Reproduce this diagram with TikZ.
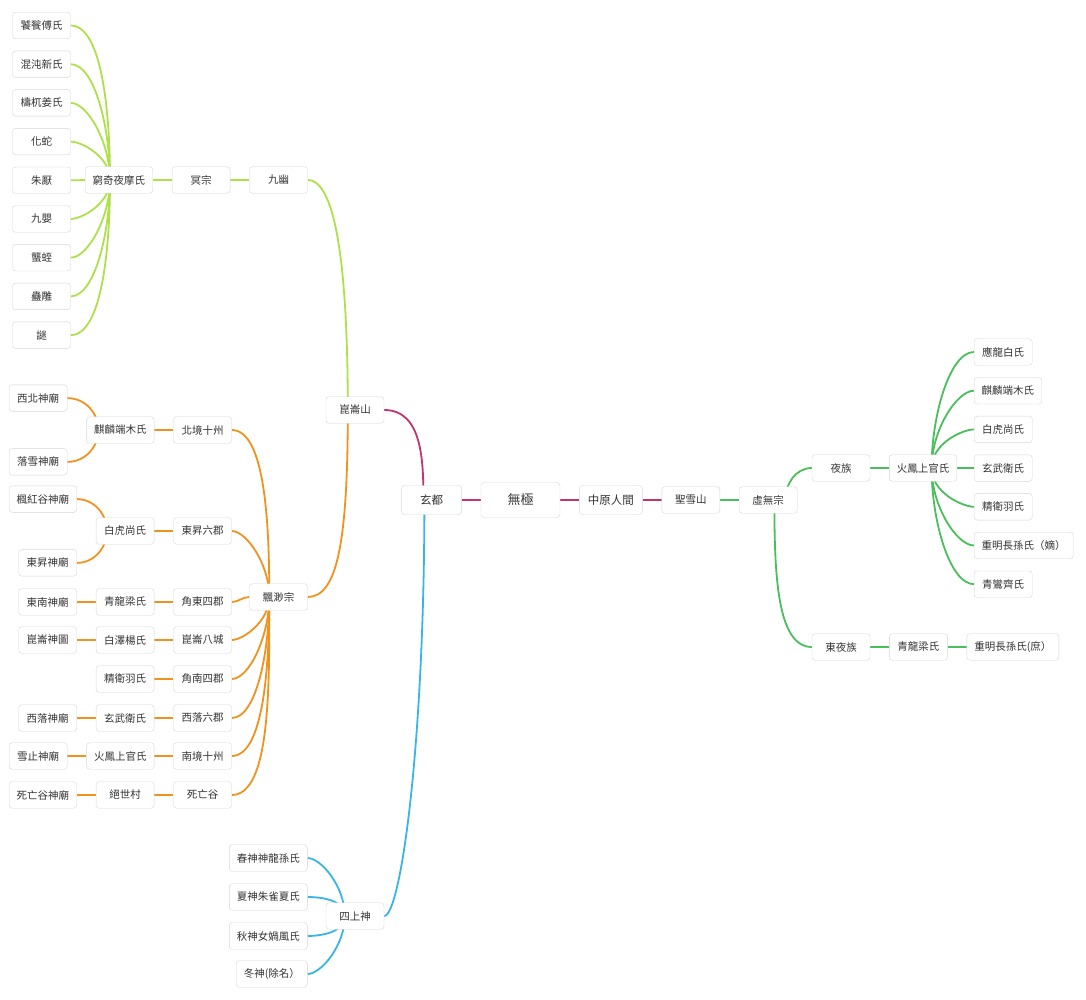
\documentclass[tikz,border=0pt]{standalone}
\usepackage{fontspec}
\newfontfamily\cjk{Noto Sans CJK TC}
\usetikzlibrary{positioning,backgrounds}
\definecolor{youcol}{HTML}{AEE04A}
\definecolor{piaocol}{HTML}{F0921E}
\definecolor{xuancol}{HTML}{C2346E}
\definecolor{xucol}{HTML}{4BBE5C}
\definecolor{sicol}{HTML}{38B4E6}
\definecolor{boxline}{HTML}{D6D6D6}
\definecolor{boxtext}{HTML}{333333}
\tikzset{topic/.style={
    draw=boxline, fill=white, text=boxtext, rounded corners=3pt,
    font=\cjk\fontsize{10.5}{12}\selectfont,
    inner xsep=7.5pt, minimum width=58pt, minimum height=26.5pt,
  },
  main topic/.style={topic, font=\cjk\fontsize{11.5}{13}\selectfont,
    inner xsep=8.5pt, minimum width=60pt, minimum height=29pt},
  central topic/.style={topic, font=\cjk\fontsize{13}{15}\selectfont,
    minimum width=79pt, minimum height=35pt},
  branch/.style={line width=1.8pt},
  fan/.style={out looseness=0.5, in looseness=1.1},
}

\begin{document}
\begin{tikzpicture}[x=1pt, y=-1pt, node distance=19pt]
\useasboundingbox (0,0) rectangle (1086,1000);
\node[central topic] (wuji) at (520.5,500) {無極};
\node[main topic, left=of wuji] (xuandu) {玄都};
\node[main topic, right=of wuji] (zhongyuan) {中原人間};
\node[topic, right=of zhongyuan] (shengxue) {聖雪山};
\node[topic, right=of shengxue] (xuwu) {虛無宗};
\node[topic] (kunlun) at (355,410) {崑崙山};

\node[topic] (jiuyou) at (278.5,180) {九幽};
\node[topic, left=of jiuyou] (mingzong) {冥宗};
\node[topic, left=of mingzong] (qiongqi) {窮奇夜摩氏};
\foreach \t [count=\i] in {饕餮傅氏,混沌新氏,檮杌姜氏,化蛇,朱厭,九嬰,蠪蛭,蠱雕,謎}
  \node[topic] (gui\i) at (41.5,{25.5+38.7*(\i-1)}) {\t};

\node[topic] (piaomiao) at (278.5,597) {飄渺宗};
\foreach \t/\y [count=\i] in {北境十州/430, 東昇六郡/531, 角東四郡/602, 崑崙八城/640,
    角南四郡/679, 西落六郡/718, 南境十州/756, 死亡谷/795}
  \node[topic] (jun\i) at (202.5,\y) {\t};
\foreach \t [count=\i] in {麒麟端木氏,白虎尚氏,青龍梁氏,白澤楊氏,精衛羽氏,玄武衛氏,火鳳上官氏,絕世村}
  \node[topic, left=of jun\i] (shi\i) {\t};
\foreach \t/\i in {東南神廟/3, 崑崙神圖/4, 西落神廟/6, 雪止神廟/7, 死亡谷神廟/8}
  \node[topic, left=of shi\i] (miao\i) {\t};
\node[topic, above left=5pt and 19pt of shi1] (miao1a) {西北神廟};
\node[topic, below left=5pt and 19pt of shi1] (miao1b) {落雪神廟};
\node[topic, above left=5pt and 19pt of shi2] (miao2a) {楓紅谷神廟};
\node[topic, below left=5pt and 19pt of shi2] (miao2b) {東昇神廟};

\node[topic] (yezu) at (841,468) {夜族};
\node[topic, right=of yezu] (huofeng) {火鳳上官氏};
\foreach \t [count=\i] in {應龍白氏,麒麟端木氏,白虎尚氏,玄武衛氏,精衛羽氏,重明長孫氏（嫡）,青鸞齊氏}
  \node[topic, anchor=west] (ye\i) at (974,{352+38.7*(\i-1)}) {\t};
\node[topic] (dongye) at (841,647) {東夜族};
\node[topic, right=of dongye] (qinglong) {青龍梁氏};
\node[topic, right=of qinglong] (zhongming) {重明長孫氏(庶）};

\node[topic] (sishang) at (355,916) {四上神};
\foreach \t/\y [count=\i] in {春神神龍孫氏/858, 夏神朱雀夏氏/897, 秋神女媧風氏/936, 冬神(除名）/974}
  \node[topic, anchor=east] (shen\i) at (307.5,\y) {\t};

\begin{scope}[on background layer={branch}]
\draw[xuancol] (xuandu) -- (wuji) -- (zhongyuan) -- (shengxue);
\draw[xuancol] (kunlun.east) to[out=0, in=90] ([xshift=22pt]xuandu.west);

\draw[youcol] (jiuyou.east) .. controls +(30,0) and +(0,-130) .. ([xshift=22pt]kunlun.west);
\draw[youcol] (qiongqi) -- (mingzong) -- (jiuyou);
\foreach \i in {1,...,4}
  \draw[youcol] (gui\i.east) to[out=0, in=90, fan] ([xshift=25pt]qiongqi.west);
\draw[youcol] (gui5) -- (qiongqi);
\foreach \i in {6,...,9}
  \draw[youcol] (gui\i.east) to[out=0, in=-90, fan] ([xshift=25pt]qiongqi.west);

\draw[piaocol] (piaomiao.east) .. controls +(30,0) and +(0,130) .. ([xshift=22pt]kunlun.west);
\foreach \i in {1,2}
  \draw[piaocol] (jun\i.east) to[out=0, in=90, fan] ([xshift=20pt]piaomiao.west);
\draw[piaocol] (jun3.east) to[out=0, in=180] (piaomiao.west);
\foreach \i in {4,...,8}
  \draw[piaocol] (jun\i.east) to[out=0, in=-90, fan] ([xshift=20pt]piaomiao.west);
\foreach \i in {1,...,8}
  \draw[piaocol] (shi\i) -- (jun\i);
\foreach \i in {3,4,6,7,8}
  \draw[piaocol] (miao\i) -- (shi\i);
\draw[piaocol] (miao1a.east) to[out=0, in=90] ([xshift=12pt]shi1.west);
\draw[piaocol] (miao1b.east) to[out=0, in=-90] ([xshift=12pt]shi1.west);
\draw[piaocol] (miao2a.east) to[out=0, in=90] ([xshift=11pt]shi2.west);
\draw[piaocol] (miao2b.east) to[out=0, in=-90] ([xshift=11pt]shi2.west);

\draw[xucol] (shengxue) -- (xuwu);
\draw[xucol] ([xshift=-12pt]xuwu.east) to[out=90, in=180] (yezu.west);
\draw[xucol] ([xshift=-23pt]xuwu.east) to[out=-90, in=180, out looseness=1.2, in looseness=0.6] (dongye.west);
\draw[xucol] (yezu) -- (huofeng) -- (ye4);
\foreach \i in {1,2,3}
  \draw[xucol] (ye\i.west) to[out=180, in=90, fan] ([xshift=-25.5pt]huofeng.east);
\foreach \i in {5,6,7}
  \draw[xucol] (ye\i.west) to[out=180, in=-90, fan] ([xshift=-25.5pt]huofeng.east);
\draw[xucol] (dongye) -- (qinglong) -- (zhongming);

\draw[sicol] (sishang.east) .. controls +(16,0) and +(0,250) .. ([xshift=23pt]xuandu.west);
\foreach \i in {1,2}
  \draw[sicol] (shen\i.east) to[out=0, in=90, fan] ([xshift=19pt]sishang.west);
\foreach \i in {3,4}
  \draw[sicol] (shen\i.east) to[out=0, in=-90, fan] ([xshift=19pt]sishang.west);
\end{scope}
\end{tikzpicture}
\end{document}
